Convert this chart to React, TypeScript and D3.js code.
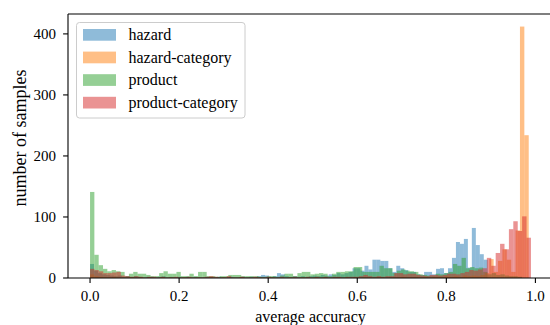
import * as d3 from 'd3';

// histogram counts per series (100 bins each, from 0 to the series' max accuracy)
const seriesNames = ['hazard', 'hazard-category', 'product', 'product-category'];
const seriesColors = ['#1f77b4', '#ff7f0e', '#2ca02c', '#d62728'];
const seriesMax = [0.893, 0.985, 0.97, 0.99];

const hazardCounts = [
    23, 12, 8, 6, 5, 4, 3, 4, 2, 3,
    2, 3, 2, 1, 2, 2, 1, 2, 3, 1,
    2, 1, 2, 1, 2, 1, 2, 1, 1, 2,
    1, 1, 2, 1, 1, 2, 1, 1, 2, 1,
    2, 1, 3, 5, 4, 2, 3, 8, 6, 3,
    2, 3, 2, 3, 2, 3, 4, 3, 5, 4,
    6, 5, 8, 6, 8, 10, 16, 16, 12, 20,
    14, 30, 30, 28, 28, 16, 10, 20, 16, 13,
    10, 10, 6, 5, 10, 10, 6, 15, 16, 8,
    16, 33, 59, 56, 64, 17, 82, 54, 39, 30,
];
const hazardCategoryCounts = [
    6, 3, 2, 1, 1, 2, 1, 0, 1, 1,
    0, 1, 0, 1, 0, 0, 1, 0, 1, 0,
    0, 1, 0, 0, 1, 0, 0, 1, 0, 0,
    1, 0, 0, 0, 1, 0, 0, 0, 1, 0,
    0, 1, 0, 0, 0, 1, 0, 0, 1, 0,
    0, 1, 0, 1, 0, 0, 1, 0, 1, 0,
    1, 0, 1, 1, 0, 1, 1, 0, 1, 1,
    1, 2, 1, 1, 2, 1, 2, 1, 2, 2,
    2, 3, 2, 3, 2, 4, 3, 4, 3, 5,
    8, 31, 10, 28, 47, 30, 10, 78, 412, 234,
];
const productCounts = [
    141, 38, 21, 15, 11, 13, 11, 10, 3, 7,
    10, 7, 7, 5, 3, 3, 8, 11, 7, 7,
    10, 3, 3, 7, 3, 10, 10, 3, 3, 2,
    3, 3, 5, 5, 5, 3, 3, 3, 3, 2,
    2, 3, 3, 2, 4, 7, 7, 3, 8, 10,
    10, 6, 7, 8, 7, 3, 7, 10, 10, 11,
    11, 18, 18, 10, 10, 10, 10, 20, 16, 16,
    8, 12, 14, 12, 11, 10, 6, 5, 4, 4,
    7, 6, 8, 10, 23, 20, 33, 16, 18, 16,
    17, 10, 6, 8, 5, 6, 4, 3, 3, 2,
];
const productCategoryCounts = [
    15, 13, 11, 8, 8, 9, 10, 4, 3, 2,
    3, 2, 1, 2, 2, 1, 2, 1, 1, 2,
    1, 1, 2, 1, 1, 1, 2, 3, 2, 1,
    1, 3, 1, 1, 2, 1, 1, 2, 1, 1,
    2, 1, 1, 2, 1, 1, 2, 1, 1, 2,
    1, 2, 1, 2, 1, 2, 2, 1, 2, 2,
    2, 3, 5, 3, 2, 3, 2, 3, 3, 8,
    8, 6, 7, 7, 5, 4, 3, 5, 5, 4,
    5, 7, 7, 6, 8, 10, 13, 12, 14, 16,
    33, 20, 41, 56, 47, 80, 93, 77, 101, 66,
];

const xTicks = [0, 0.2, 0.4, 0.6, 0.8, 1.0];
const yTicks = [0, 100, 200, 300, 400];

const width = 550;
const height = 325;
const margin = { top: 14, right: 553, bottom: 278, left: 68 }; // plot box edges in px
const font = '"Liberation Serif", "Times New Roman", serif';

const App = () => {
    const allCounts = [hazardCounts, hazardCategoryCounts, productCounts, productCategoryCounts];
    const xMax = d3.max(seriesMax) ?? 1;
    const yMax = d3.max(allCounts.flat()) ?? 1;

    const x = d3
        .scaleLinear()
        .domain([-0.05 * xMax, 1.05 * xMax])
        .range([margin.left, margin.right]);
    const y = d3
        .scaleLinear()
        .domain([0, yMax * 1.05])
        .range([margin.bottom, margin.top]);

    return (
        <svg
            width={width}
            height={height}
            style={{ position: 'absolute', left: 0, top: 0, fontFamily: font }}
        >
            <rect width={width} height={height} fill="white" />
            {/* bars */}
            {allCounts.map((counts, s) => {
                const step = seriesMax[s] / counts.length;
                return (
                    <g key={s} fill={seriesColors[s]} fillOpacity={0.5}>
                        {counts.map((c, i) =>
                            c > 0 ? (
                                <rect
                                    key={i}
                                    x={x(i * step)}
                                    y={y(c)}
                                    width={x((i + 1) * step) - x(i * step)}
                                    height={y(0) - y(c)}
                                />
                            ) : null
                        )}
                    </g>
                );
            })}

            {/* spines */}
            <g stroke="black" strokeWidth={1.1} fill="none">
                <line x1={margin.left} x2={margin.right} y1={margin.top} y2={margin.top} />
                <line x1={margin.left} x2={margin.right} y1={margin.bottom} y2={margin.bottom} />
                <line x1={margin.left} x2={margin.left} y1={margin.top} y2={margin.bottom} />
                <line x1={margin.right} x2={margin.right} y1={margin.top} y2={margin.bottom} />
            </g>

            {/* x axis */}
            {xTicks.map(t => (
                <g key={t} transform={`translate(${x(t)},${margin.bottom})`}>
                    <line y2={4.9} stroke="black" strokeWidth={1.1} />
                    <text y={23} textAnchor="middle" fontSize={15}>
                        {d3.format('.1f')(t)}
                    </text>
                </g>
            ))}
            <text
                x={(margin.left + margin.right) / 2}
                y={321.5}
                textAnchor="middle"
                fontSize={16}
            >
                average accuracy
            </text>

            {/* y axis */}
            {yTicks.map(t => (
                <g key={t} transform={`translate(${margin.left},${y(t)})`}>
                    <line x2={-4.9} stroke="black" strokeWidth={1.1} />
                    <text x={-12} dy="0.33em" textAnchor="end" fontSize={15}>
                        {t}
                    </text>
                </g>
            ))}
            <text
                transform={`translate(26,138) rotate(-90)`}
                textAnchor="middle"
                fontSize={18}
            >
                number of samples
            </text>

            {/* legend */}
            <g>
                <rect
                    x={76.5}
                    y={22.5}
                    width={168.5}
                    height={95.5}
                    rx={3}
                    fill="white"
                    fillOpacity={0.8}
                    stroke="#cccccc"
                    strokeWidth={1}
                />
                {seriesNames.map((name, i) => (
                    <g key={name} transform={`translate(83,${29 + i * 22.6})`}>
                        <rect width={33} height={11.7} fill={seriesColors[i]} fillOpacity={0.5} />
                        <text x={45.5} y={11} fontSize={16}>
                            {name}
                        </text>
                    </g>
                ))}
            </g>
        </svg>
    );
};

export default App;
